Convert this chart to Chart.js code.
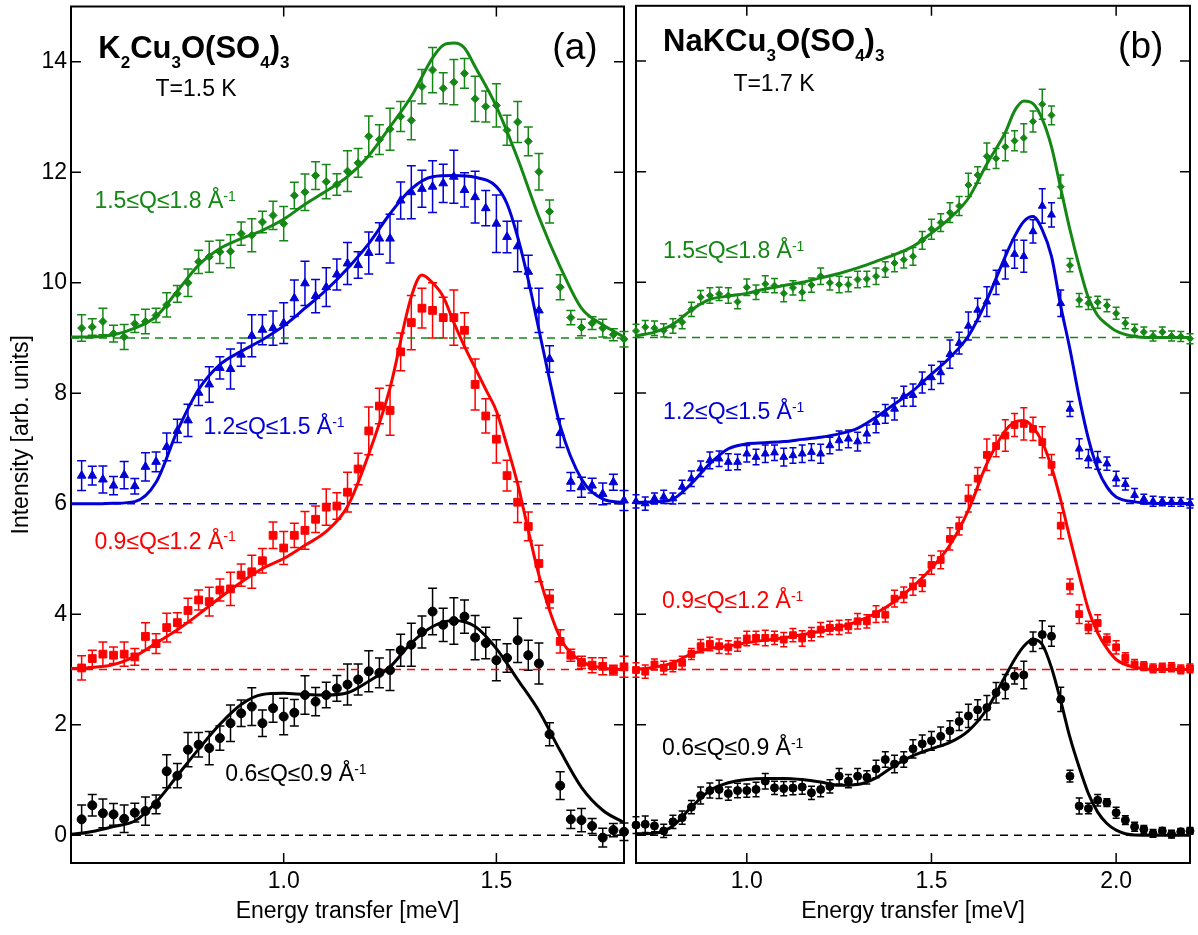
<!DOCTYPE html>
<html><head><meta charset="utf-8">
<script src="https://cdn.jsdelivr.net/npm/chart.js@4.4.1/dist/chart.umd.min.js"></script>
<style>
html,body{margin:0;padding:0;background:#fff;}
#wrap{position:relative;width:1198px;height:935px;background:#fff;}
canvas{position:absolute;left:0;top:0;}
</style></head><body>
<div id="wrap"><canvas id="ca" width="1198" height="935"></canvas><canvas id="cb" width="1198" height="935"></canvas></div>
<script>
// ---------------- Panel (a): K2Cu3O(SO4)3 ----------------
const E_A = [0.525,0.55,0.575,0.6,0.625,0.65,0.675,0.7,0.725,0.75,0.775,0.8,0.825,0.85,0.875,0.9,0.925,0.95,0.975,1.0,
 1.025,1.05,1.075,1.1,1.125,1.15,1.175,1.2,1.225,1.25,1.275,1.3,1.325,1.35,1.375,1.4,1.425,1.45,1.475,1.5,
 1.525,1.55,1.575,1.6,1.625,1.65,1.675,1.7,1.725,1.75,1.775,1.8];
const A_BLACK = [0.29,0.545,0.40,0.38,0.30,0.41,0.44,0.56,1.16,1.08,1.55,1.64,1.58,1.76,2.03,2.21,2.33,2.03,2.30,2.15,
 2.22,2.54,2.42,2.54,2.66,2.73,2.82,2.97,2.94,2.99,3.35,3.45,3.68,4.05,3.81,3.88,3.96,3.58,3.48,3.17,
 3.21,3.53,3.26,3.11,1.83,0.90,0.29,0.275,0.17,-0.04,0.095,0.065];
const A_BLACK_ERR = [0.26,0.195,0.26,0.195,0.25,0.17,0.255,0.17,0.30,0.22,0.31,0.22,0.30,0.22,0.33,0.24,0.34,0.24,0.255,0.33,
 0.24,0.35,0.255,0.23,0.235,0.37,0.28,0.37,0.27,0.37,0.29,0.39,0.29,0.42,0.30,0.42,0.30,0.40,0.285,0.37,
 0.26,0.40,0.27,0.37,0.21,0.25,0.165,0.21,0.135,0.17,0.12,0.16];
const A_RED = [3.03,3.20,3.28,3.26,3.28,3.23,3.60,3.47,3.76,3.85,4.07,4.26,4.23,4.44,4.46,4.71,4.77,4.97,5.43,5.20,
 5.43,5.52,5.72,5.94,5.96,6.21,6.63,7.32,7.77,7.69,8.75,9.28,9.54,9.50,9.37,9.37,9.14,8.16,7.59,7.17,
 6.51,6.03,5.59,4.92,4.28,3.51,3.26,3.13,3.08,3.06,2.99,3.05];
const A_RED_ERR = [0.22,0.15,0.22,0.15,0.22,0.15,0.25,0.18,0.26,0.18,0.22,0.18,0.26,0.20,0.30,0.20,0.30,0.22,0.24,0.30,
 0.22,0.34,0.24,0.33,0.24,0.36,0.285,0.43,0.32,0.45,0.34,0.49,0.36,0.50,0.37,0.50,0.32,0.46,0.31,0.43,
 0.28,0.37,0.26,0.33,0.165,0.21,0.11,0.11,0.135,0.155,0.09,0.19];
const A_BLUE = [6.51,6.51,6.44,6.33,6.52,6.32,6.67,6.76,7.03,7.32,7.51,8.01,8.16,8.46,8.44,8.70,9.04,9.15,9.18,9.27,
 9.72,9.99,9.76,9.92,10.15,10.35,10.32,10.54,10.80,10.80,11.49,11.64,11.70,11.74,11.80,11.92,11.68,11.55,11.35,11.07,
 10.83,10.66,10.20,9.50,8.62,7.28,6.40,6.30,6.33,6.18,6.39,6.06];
const A_BLUE_ERR = [0.27,0.17,0.245,0.165,0.245,0.14,0.255,0.18,0.25,0.21,0.29,0.23,0.32,0.20,0.36,0.21,0.38,0.27,0.31,0.37,
 0.33,0.40,0.30,0.35,0.28,0.38,0.24,0.38,0.285,0.44,0.335,0.48,0.335,0.47,0.345,0.48,0.31,0.47,0.32,0.52,
 0.285,0.46,0.30,0.40,0.24,0.26,0.165,0.18,0.135,0.195,0.145,0.18];
const A_GREEN = [9.18,9.20,9.30,9.08,9.02,9.26,9.30,9.41,9.60,9.80,10.0,10.38,10.47,10.56,10.57,10.89,10.86,11.10,11.22,11.07,
 11.58,11.64,11.94,11.83,11.78,12.02,12.17,12.65,12.59,12.78,13.01,12.94,13.55,13.85,13.52,13.63,13.79,13.33,13.19,13.21,
 12.76,12.91,12.56,12.01,11.29,9.92,9.37,9.19,9.27,9.18,9.06,8.98];
const A_GREEN_ERR = [0.24,0.15,0.24,0.15,0.225,0.16,0.22,0.13,0.22,0.15,0.25,0.21,0.28,0.21,0.30,0.21,0.30,0.195,0.255,0.31,
 0.24,0.33,0.25,0.31,0.195,0.37,0.26,0.37,0.27,0.38,0.27,0.35,0.31,0.41,0.28,0.41,0.27,0.41,0.28,0.39,
 0.27,0.37,0.26,0.33,0.21,0.225,0.13,0.15,0.115,0.16,0.11,0.14];
// fit curves panel (a)
const FA_BLACK_E = [0.5,0.55,0.6,0.65,0.7,0.75,0.8,0.85,0.9,0.95,1.0,1.05,1.1,1.15,1.2,1.25,1.3,1.35,1.4,1.45,1.5,1.55,1.6,1.65,1.7,1.75,1.8];
const FA_BLACK = [0.02,0.07,0.16,0.26,0.60,1.08,1.56,2.01,2.37,2.55,2.57,2.55,2.54,2.58,2.79,3.05,3.48,3.78,3.89,3.78,3.38,2.82,2.25,1.53,0.87,0.455,0.23];
const FA_RED_E = [0.5,0.55,0.6,0.65,0.7,0.75,0.8,0.85,0.9,0.95,1.0,1.05,1.1,1.15,1.2,1.25,1.3,1.325,1.35,1.375,1.4,1.425,1.45,1.475,1.5,1.525,1.55,1.575,1.6,1.65,1.7,1.75,1.8];
const FA_RED = [3.02,3.04,3.09,3.24,3.48,3.72,4.0,4.30,4.58,4.83,5.01,5.25,5.50,5.95,6.90,8.10,9.75,10.14,10.0,9.75,9.28,8.85,8.46,8.07,7.68,7.05,6.36,5.52,4.71,3.58,3.15,3.03,3.0];
const FA_BLUE_E = [0.5,0.55,0.6,0.65,0.7,0.75,0.8,0.85,0.9,0.95,1.0,1.05,1.1,1.15,1.2,1.25,1.3,1.35,1.4,1.45,1.5,1.525,1.55,1.575,1.6,1.625,1.65,1.7,1.75,1.8];
const FA_BLUE = [6.0,6.0,6.01,6.04,6.39,7.32,8.07,8.52,8.76,8.97,9.22,9.54,9.87,10.26,10.71,11.25,11.70,11.92,11.94,11.91,11.74,11.43,10.83,10.05,9.15,8.25,7.41,6.45,6.09,6.02];
const FA_GREEN_E = [0.5,0.55,0.6,0.65,0.7,0.75,0.8,0.85,0.9,0.95,1.0,1.05,1.1,1.15,1.2,1.25,1.3,1.35,1.375,1.4,1.425,1.45,1.5,1.55,1.6,1.65,1.7,1.75,1.8];
const FA_GREEN = [9.02,9.02,9.06,9.18,9.39,9.85,10.32,10.62,10.80,10.95,11.15,11.42,11.66,11.92,12.30,12.82,13.37,14.07,14.30,14.34,14.25,13.91,13.19,12.25,11.19,10.29,9.54,9.24,9.02];

// ---------------- Panel (b): NaKCu3O(SO4)3 ----------------
const E_B = [0.7,0.725,0.75,0.775,0.8,0.825,0.85,0.875,0.9,0.925,0.95,0.975,1.0,1.025,1.05,1.075,1.1,1.125,1.15,1.175,
 1.2,1.225,1.25,1.275,1.3,1.325,1.35,1.375,1.4,1.425,1.45,1.475,1.5,1.525,1.55,1.575,1.6,1.625,1.65,1.675,
 1.7,1.725,1.75,1.775,1.8,1.825,1.85,1.875,1.9,1.925,1.95,1.975,2.0,2.025,2.05,2.075,2.1,2.125,2.15,2.175,2.2];
const B_BLACK = [0.185,0.20,0.17,0.08,0.245,0.32,0.51,0.72,0.81,0.83,0.755,0.81,0.81,0.83,0.98,0.86,0.845,0.855,0.875,0.77,
 0.83,0.885,1.07,0.98,1.07,1.05,1.20,1.37,1.29,1.37,1.565,1.655,1.71,1.79,1.89,2.06,2.16,2.27,2.31,2.58,
 2.69,2.88,2.90,3.50,3.63,3.60,2.46,1.07,0.53,0.485,0.635,0.59,0.41,0.275,0.155,0.11,0.035,0.08,0.02,0.065,0.08];
const B_BLACK_ERR = [0.15,0.15,0.105,0.12,0.12,0.12,0.12,0.155,0.135,0.165,0.12,0.13,0.12,0.13,0.14,0.12,0.13,0.12,0.13,0.12,
 0.13,0.12,0.14,0.12,0.14,0.12,0.16,0.14,0.16,0.14,0.165,0.16,0.17,0.17,0.18,0.165,0.21,0.18,0.22,0.185,
 0.22,0.145,0.25,0.175,0.25,0.18,0.22,0.105,0.145,0.095,0.105,0.07,0.10,0.08,0.08,0.07,0.07,0.06,0.07,0.06,0.06];
const B_RED = [2.99,2.96,3.09,3.03,3.06,3.12,3.28,3.42,3.46,3.42,3.40,3.45,3.56,3.57,3.57,3.57,3.54,3.62,3.56,3.64,
 3.72,3.75,3.76,3.78,3.87,3.87,4.00,3.99,4.28,4.35,4.50,4.56,4.89,4.98,5.36,5.59,6.09,6.45,6.88,7.04,
 7.23,7.42,7.44,7.35,7.11,6.70,5.60,4.50,4.00,3.76,3.84,3.54,3.40,3.21,3.09,3.06,3.02,3.03,3.04,3.00,3.02];
const B_RED_ERR = [0.13,0.12,0.10,0.12,0.10,0.12,0.10,0.12,0.12,0.13,0.12,0.12,0.13,0.12,0.14,0.12,0.13,0.12,0.14,0.12,
 0.13,0.12,0.13,0.12,0.14,0.12,0.15,0.13,0.15,0.14,0.16,0.15,0.17,0.16,0.20,0.16,0.245,0.20,0.285,0.195,
 0.285,0.21,0.29,0.21,0.28,0.185,0.235,0.135,0.17,0.11,0.15,0.10,0.12,0.09,0.09,0.08,0.08,0.08,0.08,0.08,0.08];
const B_BLUE = [6.04,6.00,6.09,6.12,6.09,6.30,6.45,6.63,6.78,6.81,6.75,6.75,6.90,6.84,6.90,6.92,6.84,6.87,6.90,6.93,
 6.90,7.05,7.14,7.17,7.12,7.26,7.47,7.62,7.71,7.94,7.96,8.19,8.28,8.37,8.70,8.90,9.21,9.50,9.65,10.0,
 10.32,10.51,10.47,10.92,11.38,11.22,9.62,7.71,6.99,6.81,6.78,6.72,6.45,6.35,6.15,6.08,6.04,6.04,6.03,6.03,6.00];
const B_BLUE_ERR = [0.12,0.12,0.10,0.12,0.10,0.12,0.14,0.14,0.15,0.14,0.15,0.14,0.15,0.14,0.16,0.14,0.16,0.14,0.16,0.15,
 0.17,0.15,0.17,0.16,0.17,0.16,0.19,0.17,0.20,0.18,0.20,0.19,0.22,0.20,0.255,0.195,0.255,0.21,0.27,0.22,
 0.26,0.255,0.29,0.21,0.31,0.22,0.24,0.135,0.18,0.165,0.16,0.12,0.135,0.105,0.12,0.09,0.09,0.08,0.08,0.08,0.08];
const B_GREEN = [9.12,9.19,9.17,9.13,9.21,9.28,9.51,9.73,9.76,9.79,9.76,9.65,9.91,9.82,9.97,9.94,9.80,9.90,9.82,9.95,
 10.11,9.99,9.96,9.96,10.05,10.06,10.11,10.23,10.35,10.41,10.47,10.76,10.96,11.08,11.26,11.38,11.76,11.94,12.28,12.24,
 12.45,12.56,12.61,12.91,13.22,13.02,11.73,10.31,9.68,9.62,9.64,9.58,9.44,9.26,9.14,9.10,9.03,9.10,9.03,9.02,8.98];
const B_GREEN_ERR = [0.12,0.12,0.13,0.12,0.13,0.12,0.13,0.12,0.14,0.12,0.14,0.13,0.15,0.13,0.15,0.13,0.15,0.13,0.15,0.13,
 0.15,0.13,0.15,0.13,0.15,0.14,0.15,0.14,0.16,0.15,0.16,0.16,0.18,0.16,0.18,0.17,0.21,0.15,0.24,0.18,
 0.25,0.18,0.255,0.19,0.27,0.17,0.21,0.12,0.12,0.11,0.11,0.11,0.11,0.10,0.10,0.09,0.09,0.09,0.09,0.09,0.09];
// fit curves panel (b)
const FB_E = [0.7,0.75,0.8,0.85,0.9,0.95,1.0,1.05,1.1,1.15,1.2,1.25,1.3,1.35,1.4,1.45,1.5,1.55,1.6,1.65,1.7,1.725,1.75,1.775,1.8,1.825,1.85,1.875,1.9,1.925,1.95,1.975,2.0,2.05,2.1,2.2];
const FB_BLACK = [0.03,0.04,0.17,0.51,0.81,0.95,1.01,1.03,1.03,1.01,0.965,0.905,0.92,1.04,1.26,1.44,1.565,1.68,1.89,2.28,2.88,3.18,3.42,3.54,3.45,3.03,2.43,1.77,1.23,0.755,0.42,0.215,0.095,0.005,0.0,0.0];
const FB_RED = [3.0,3.04,3.12,3.28,3.38,3.42,3.48,3.53,3.57,3.63,3.69,3.76,3.87,4.02,4.23,4.50,4.83,5.25,5.88,6.72,7.32,7.47,7.50,7.38,7.11,6.66,6.06,5.37,4.71,4.08,3.66,3.38,3.18,3.04,3.0,3.0];
const FB_BLUE = [6.02,6.03,6.08,6.36,6.72,6.99,7.08,7.10,7.12,7.16,7.20,7.26,7.36,7.56,7.80,8.04,8.34,8.64,9.03,9.68,10.47,10.83,11.10,11.19,10.95,10.47,9.57,8.79,7.92,7.17,6.63,6.30,6.12,6.03,6.0,6.0];
const FB_GREEN = [9.03,9.10,9.24,9.50,9.69,9.75,9.80,9.88,9.94,10.0,10.08,10.16,10.26,10.38,10.50,10.65,10.89,11.16,11.52,12.14,12.71,13.1,13.28,13.23,12.95,12.45,11.70,10.95,10.29,9.72,9.40,9.24,9.12,9.02,9.0,9.0];

// axes / ticks
const BASELINES = [0, 3, 6, 9];
const Y_TICKS = [0, 2, 4, 6, 8, 10, 12, 14];
const X_TICKS_A = [1.0, 1.5];
const X_TICKS_B = [1.0, 1.5, 2.0];

// ---------------- styling / helpers ----------------
const FAMILY = '"Liberation Sans", Arial, Helvetica, sans-serif';
const C_BLACK = '#000000', C_RED = 'rgb(255,0,0)', C_BLUE = 'rgb(0,0,215)', C_GREEN = 'rgb(20,135,20)';
Chart.defaults.font.family = FAMILY;
Chart.defaults.color = '#000';

function pts(xs, ys) { return xs.map((x, i) => ({x: x, y: ys[i]})); }

const framePlugin = {
  id: 'frame',
  beforeDatasetsDraw(chart, args, o) {
    const {ctx, chartArea: a, scales: {x, y}} = chart;
    ctx.save();
    ctx.strokeStyle = '#000';
    ctx.lineWidth = 2;
    ctx.strokeRect(a.left, a.top, a.right - a.left, a.bottom - a.top);
    ctx.lineWidth = 1.5;
    ctx.beginPath();
    x.ticks.forEach(t => {
      const px = x.getPixelForValue(t.value);
      ctx.moveTo(px, a.bottom); ctx.lineTo(px, a.bottom - 10);
      ctx.moveTo(px, a.top); ctx.lineTo(px, a.top + 10);
    });
    y.ticks.forEach(t => {
      const py = y.getPixelForValue(t.value);
      ctx.moveTo(a.left, py); ctx.lineTo(a.left + 10, py);
      ctx.moveTo(a.right, py); ctx.lineTo(a.right - 10, py);
    });
    ctx.stroke();
    // error bars
    chart.data.datasets.forEach(ds => {
      if (!ds.errors) return;
      ctx.strokeStyle = ds.borderColor;
      ctx.lineWidth = 1.5;
      ctx.beginPath();
      ds.data.forEach((p, k) => {
        const e = ds.errors[k];
        const px = x.getPixelForValue(p.x);
        const y1 = y.getPixelForValue(p.y + e), y2 = y.getPixelForValue(p.y - e);
        ctx.moveTo(px, y1); ctx.lineTo(px, y2);
        ctx.moveTo(px - o.cap, y1); ctx.lineTo(px + o.cap, y1);
        ctx.moveTo(px - o.cap, y2); ctx.lineTo(px + o.cap, y2);
      });
      ctx.stroke();
    });
    ctx.restore();
  },
  afterDraw(chart, args, o) {
    const {ctx, scales: {x, y}} = chart;
    ctx.save();
    ctx.textBaseline = 'alphabetic';
    ctx.textAlign = 'left';
    (o.texts || []).forEach(T => {
      let cx = x.getPixelForValue(T.x);
      const by = y.getPixelForValue(T.y);
      ctx.fillStyle = T.color || '#000';
      T.parts.forEach(([t, kind]) => {
        let fs = T.size, dy = 0;
        if (kind === 'sub') { fs = Math.round(T.size * 0.56); dy = T.size * 0.33; }
        if (kind === 'sup') { fs = Math.round(T.size * 0.6); dy = -T.size * 0.32; }
        ctx.font = (T.bold ? 'bold ' : '') + fs + 'px ' + FAMILY;
        ctx.fillText(t, cx, by + dy);
        cx += ctx.measureText(t).width;
      });
    });
    ctx.restore();
  }
};

function build(id, P) {
  const ds = [];
  P.series.forEach(s => ds.push({
    data: pts(P.E, s.y), errors: s.err, showLine: false,
    pointStyle: s.style, pointRadius: s.r, pointHoverRadius: s.r,
    pointBackgroundColor: s.color, pointBorderColor: s.color, pointBorderWidth: 1,
    borderColor: s.color, backgroundColor: s.color, clip: false
  }));
  P.fits.forEach(f => ds.push({
    data: pts(f.x, f.y), showLine: true, borderColor: f.color, borderWidth: 3,
    pointRadius: 0, cubicInterpolationMode: 'monotone', fill: false
  }));
  P.base.forEach((b, i) => ds.push({
    data: [{x: P.xmin, y: b}, {x: P.xmax, y: b}], showLine: true, borderColor: P.baseColors[i],
    borderWidth: 1.5, borderDash: [8, 6], pointRadius: 0, fill: false
  }));
  return new Chart(document.getElementById(id), {
    type: 'scatter',
    data: {datasets: ds},
    plugins: [framePlugin],
    options: {
      responsive: false, animation: false, devicePixelRatio: 1, events: [],
      layout: {padding: P.pad},
      plugins: {legend: {display: false}, tooltip: {enabled: false},
        frame: {cap: P.cap, texts: P.texts}},
      scales: {
        x: {
          type: 'linear', min: P.xmin, max: P.xmax,
          afterBuildTicks: s => { s.ticks = P.xticks.map(v => ({value: v})); },
          ticks: {font: {size: 23}, color: '#000', padding: 5, maxRotation: 0, autoSkip: false,
                  callback: v => Number(v).toFixed(1)},
          grid: {display: false, drawTicks: false}, border: {display: false},
          title: {display: true, text: 'Energy transfer [meV]', font: {size: 23}, color: '#000',
                  padding: {top: 0, bottom: 10}},
          afterFit: s => { s.height = 72; s.paddingLeft = 0; s.paddingRight = 0; }
        },
        y: {
          type: 'linear', min: -0.5, max: 15,
          afterBuildTicks: s => { s.ticks = Y_TICKS.map(v => ({value: v})); },
          ticks: {display: P.showY, font: {size: 23}, color: '#000', padding: 4, autoSkip: false,
                  callback: v => String(v)},
          grid: {display: false, drawTicks: false}, border: {display: false},
          title: {display: P.showY, text: 'Intensity [arb. units]', font: {size: 23}, color: '#000',
                  padding: {top: 8, bottom: 0}},
          afterFit: s => { s.width = P.yw; s.paddingTop = 0; s.paddingBottom = 0; }
        }
      }
    }
  });
}

build('ca', {
  E: E_A, xmin: 0.5, xmax: 1.8, xticks: X_TICKS_A, showY: true, yw: 71, cap: 4.5,
  pad: {left: 0, right: 574, top: 1, bottom: 0},
  series: [
    {y: A_BLACK, err: A_BLACK_ERR, color: C_BLACK, style: 'circle', r: 4.5},
    {y: A_RED, err: A_RED_ERR, color: C_RED, style: 'rect', r: 5.5},
    {y: A_BLUE, err: A_BLUE_ERR, color: C_BLUE, style: 'triangle', r: 5},
    {y: A_GREEN, err: A_GREEN_ERR, color: C_GREEN, style: 'rectRot', r: 4}
  ],
  fits: [
    {x: FA_BLACK_E, y: FA_BLACK, color: C_BLACK},
    {x: FA_RED_E, y: FA_RED, color: C_RED},
    {x: FA_BLUE_E, y: FA_BLUE, color: C_BLUE},
    {x: FA_GREEN_E, y: FA_GREEN, color: C_GREEN}
  ],
  base: BASELINES, baseColors: [C_BLACK, C_RED, C_BLUE, C_GREEN],
  texts: [
    {x: 0.5643, y: 14.065, size: 31, bold: true, parts: [['K'], ['2', 'sub'], ['Cu'], ['3', 'sub'], ['O(SO'], ['4', 'sub'], [')'], ['3', 'sub']]},
    {x: 0.6987, y: 13.374, size: 23, parts: [['T=1.5 K']]},
    {x: 1.6315, y: 14.05, size: 37, parts: [['(a)']]},
    {x: 0.5551, y: 11.355, size: 23, color: C_GREEN, parts: [['1.5\u2264Q\u22641.8 \u00C5'], ['-1', 'sup']]},
    {x: 0.8112, y: 7.259, size: 23, color: C_BLUE, parts: [['1.2\u2264Q\u22641.5 \u00C5'], ['-1', 'sup']]},
    {x: 0.5551, y: 5.19, size: 23, color: C_RED, parts: [['0.9\u2264Q\u22641.2 \u00C5'], ['-1', 'sup']]},
    {x: 0.8629, y: 0.982, size: 23, color: C_BLACK, parts: [['0.6\u2264Q\u22640.9 \u00C5'], ['-1', 'sup']]}
  ]
});

build('cb', {
  E: E_B, xmin: 0.7, xmax: 2.2, xticks: X_TICKS_B, showY: false, yw: 0, cap: 3.5,
  pad: {left: 636, right: 8, top: 1, bottom: 0},
  series: [
    {y: B_BLACK, err: B_BLACK_ERR, color: C_BLACK, style: 'circle', r: 4},
    {y: B_RED, err: B_RED_ERR, color: C_RED, style: 'rect', r: 4.8},
    {y: B_BLUE, err: B_BLUE_ERR, color: C_BLUE, style: 'triangle', r: 4.5},
    {y: B_GREEN, err: B_GREEN_ERR, color: C_GREEN, style: 'rectRot', r: 3.5}
  ],
  fits: [
    {x: FB_E, y: FB_BLACK, color: C_BLACK},
    {x: FB_E, y: FB_RED, color: C_RED},
    {x: FB_E, y: FB_BLUE, color: C_BLUE},
    {x: FB_E, y: FB_GREEN, color: C_GREEN}
  ],
  base: BASELINES, baseColors: [C_BLACK, C_RED, C_BLUE, C_GREEN],
  texts: [
    {x: 0.7734, y: 14.18, size: 31, bold: true, parts: [['NaKCu'], ['3', 'sub'], ['O(SO'], ['4', 'sub'], [')'], ['3', 'sub']]},
    {x: 0.9637, y: 13.464, size: 23, parts: [['T=1.7 K']]},
    {x: 2.0052, y: 14.05, size: 37, parts: [['(b)']]},
    {x: 0.7734, y: 10.437, size: 23, color: C_GREEN, parts: [['1.5\u2264Q\u22641.8 \u00C5'], ['-1', 'sup']]},
    {x: 0.7734, y: 7.529, size: 23, color: C_BLUE, parts: [['1.2\u2264Q\u22641.5 \u00C5'], ['-1', 'sup']]},
    {x: 0.7707, y: 4.112, size: 23, color: C_RED, parts: [['0.9\u2264Q\u22641.2 \u00C5'], ['-1', 'sup']]},
    {x: 0.7707, y: 1.444, size: 23, color: C_BLACK, parts: [['0.6\u2264Q\u22640.9 \u00C5'], ['-1', 'sup']]}
  ]
});
</script>
</body></html>
